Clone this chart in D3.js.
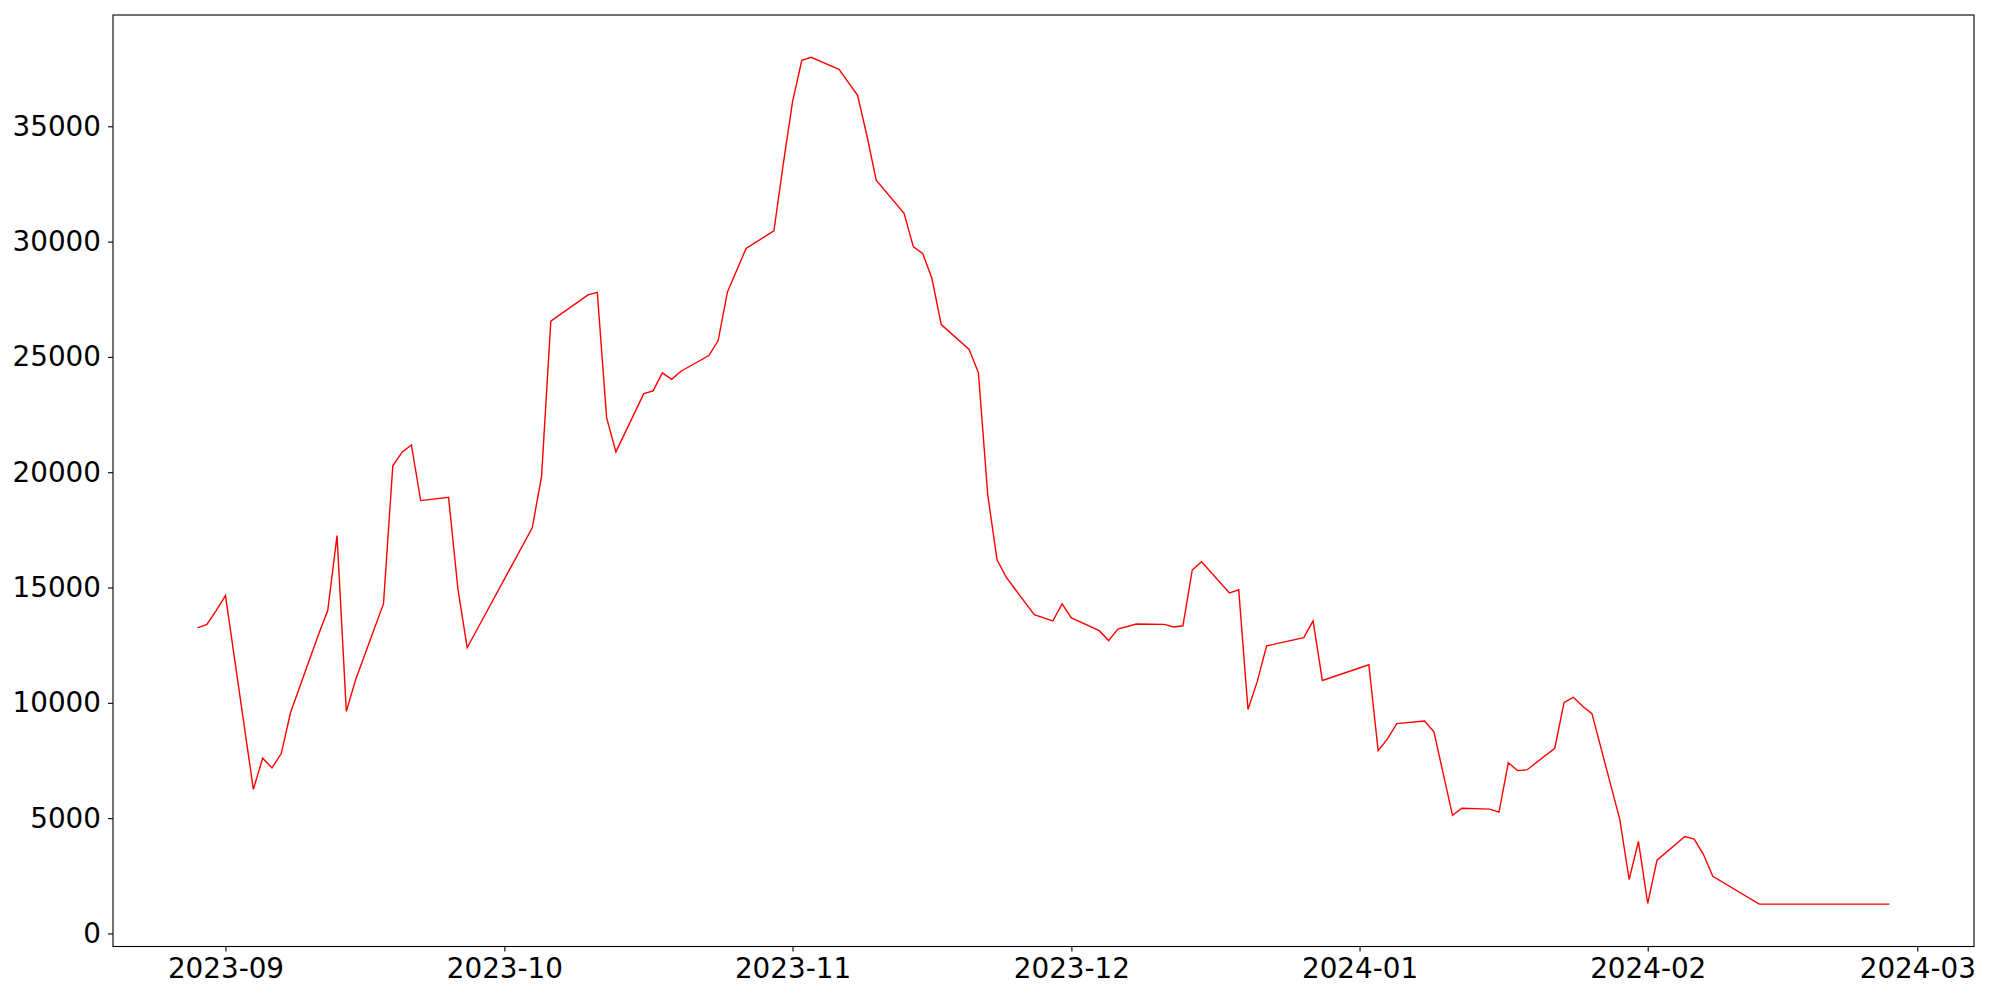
<!DOCTYPE html>
<html>
<head>
<meta charset="utf-8">
<script src="https://cdn.jsdelivr.net/npm/d3@7"></script>
<style>
  html, body { margin: 0; padding: 0; background: #fff; }
  svg { display: block; }
  .axis text { font-family: "DejaVu Sans", sans-serif; font-size: 27.8px; fill: #000; }
  .axis path { display: none; }
  .axis line { stroke: #000; stroke-width: 1.1px; }
</style>
</head>
<body>
<svg id="chart" width="2000" height="1000"></svg>
<script>
const dates = [
  "2023-08-29","2023-08-30","2023-08-31","2023-09-01","2023-09-04","2023-09-05","2023-09-06","2023-09-07","2023-09-08",
  "2023-09-11","2023-09-12","2023-09-13","2023-09-14","2023-09-15","2023-09-18","2023-09-19","2023-09-20","2023-09-21",
  "2023-09-22","2023-09-25","2023-09-26","2023-09-27","2023-10-04","2023-10-05","2023-10-06","2023-10-10","2023-10-11",
  "2023-10-12","2023-10-13","2023-10-16","2023-10-17","2023-10-18","2023-10-19","2023-10-20","2023-10-23","2023-10-24",
  "2023-10-25","2023-10-27","2023-10-30","2023-10-31","2023-11-01","2023-11-02","2023-11-03","2023-11-06","2023-11-08",
  "2023-11-09","2023-11-10","2023-11-13","2023-11-14","2023-11-15","2023-11-16","2023-11-17","2023-11-20","2023-11-21",
  "2023-11-22","2023-11-23","2023-11-24","2023-11-27","2023-11-29","2023-11-30","2023-12-01","2023-12-04","2023-12-05",
  "2023-12-06","2023-12-08","2023-12-11","2023-12-12","2023-12-13","2023-12-14","2023-12-15","2023-12-18","2023-12-19",
  "2023-12-20","2023-12-21","2023-12-22","2023-12-26","2023-12-27","2023-12-28","2024-01-02","2024-01-03","2024-01-04",
  "2024-01-05","2024-01-08","2024-01-09","2024-01-11","2024-01-12","2024-01-15","2024-01-16","2024-01-17","2024-01-18",
  "2024-01-19","2024-01-22","2024-01-23","2024-01-24","2024-01-25","2024-01-26","2024-01-29","2024-01-30","2024-01-31",
  "2024-02-01","2024-02-02","2024-02-05","2024-02-06","2024-02-07","2024-02-08","2024-02-13","2024-02-27"
];
const values = [
  13250,13400,14000,14650,6250,7600,7180,7800,9580,
  12950,14000,17250,9630,11000,14300,20280,20870,21180,
  18770,18910,14950,12390,17590,19810,26550,27690,27800,
  22370,20880,23410,23530,24310,24030,24380,25060,25710,
  27820,29700,30470,33350,36060,37860,37990,37470,36340,
  34600,32660,31230,29770,29490,28400,26400,25320,24310,
  19030,16200,15440,13820,13550,14290,13680,13130,12700,
  13200,13420,13400,13290,13340,15760,16120,14760,14900,
  9710,10930,12470,12830,13550,10970,11650,7920,8440,
  9100,9210,8740,5120,5430,5390,5260,7400,7060,
  7090,8030,10020,10240,9850,9530,4940,2340,3990,
  1300,3180,4200,4090,3420,2480,1270,1270
];
const xTickLabels = ["2023-09","2023-10","2023-11","2023-12","2024-01","2024-02","2024-03"];
const yTickValues = [0,5000,10000,15000,20000,25000,30000,35000];

(function () {
  const parse = d3.timeParse("%Y-%m-%d");
  const parseMonth = d3.timeParse("%Y-%m");
  const data = dates.map((d, i) => ({ date: parse(d), value: values[i] }));

  const mLeft = 113, mRight = 1974, mTop = 15, mBottom = 946.5;

  const xExt = d3.extent(data, d => d.date);
  const xPad = (xExt[1] - xExt[0]) * 0.05;
  const x = d3.scaleTime()
    .domain([new Date(+xExt[0] - xPad), new Date(+xExt[1] + xPad)])
    .range([mLeft, mRight]);

  const yExt = d3.extent(data, d => d.value);
  const yPad = (yExt[1] - yExt[0]) * 0.05;
  const y = d3.scaleLinear()
    .domain([yExt[0] - yPad, yExt[1] + yPad])
    .range([mBottom, mTop]);

  const svg = d3.select("#chart");

  svg.append("g")
    .attr("class", "axis")
    .attr("transform", `translate(0,${mBottom})`)
    .call(d3.axisBottom(x)
      .tickValues(xTickLabels.map(parseMonth))
      .tickFormat(d3.timeFormat("%Y-%m"))
      .tickSize(5)
      .tickPadding(6.5));

  svg.append("g")
    .attr("class", "axis")
    .attr("transform", `translate(${mLeft},0)`)
    .call(d3.axisLeft(y)
      .tickValues(yTickValues)
      .tickFormat(d3.format("d"))
      .tickSize(5)
      .tickPadding(7));

  const line = d3.line()
    .x(d => x(d.date))
    .y(d => y(d.value));

  svg.append("path")
    .datum(data)
    .attr("fill", "none")
    .attr("stroke", "#ff0000")
    .attr("stroke-width", 1.4)
    .attr("stroke-linejoin", "miter")
    .attr("d", line);

  svg.append("rect")
    .attr("x", mLeft)
    .attr("y", mTop)
    .attr("width", mRight - mLeft)
    .attr("height", mBottom - mTop)
    .attr("fill", "none")
    .attr("stroke", "#000")
    .attr("stroke-width", 1.1);
})();
</script>
</body>
</html>
